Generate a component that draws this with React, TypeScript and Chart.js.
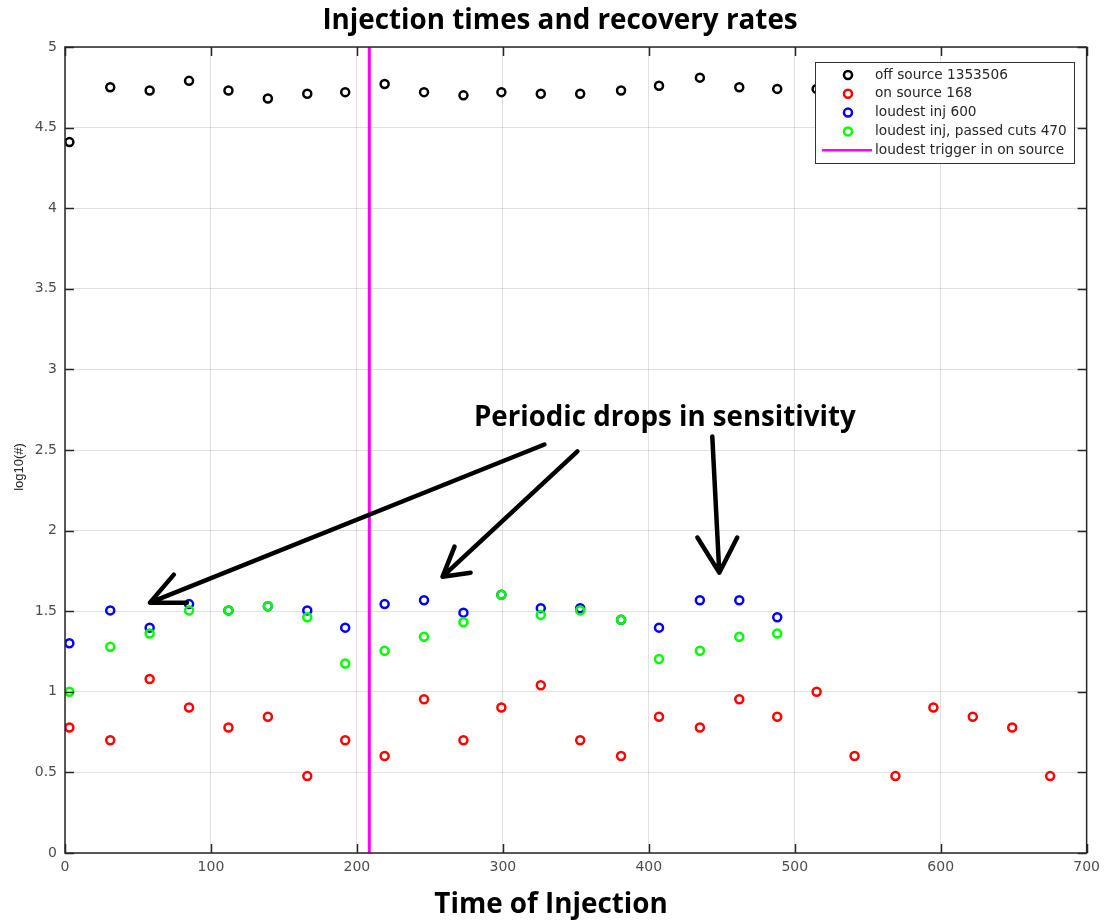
import React, { useEffect, useRef } from "react";
import { Chart, registerables } from "chart.js";

Chart.register(...registerables);

// ---------- data ----------
const injectionTimes = [3, 31, 58, 85, 112, 139, 166, 192, 219, 246, 273, 299, 326, 353, 381, 407, 435, 462, 488, 515, 541, 569, 595, 622, 649, 675];

const offSource = [4.41, 4.75, 4.73, 4.79, 4.73, 4.68, 4.71, 4.72, 4.77, 4.72, 4.70, 4.72, 4.71, 4.71, 4.73, 4.76, 4.81, 4.75, 4.74, 4.74];
const onSource = [0.778, 0.699, 1.079, 0.903, 0.778, 0.845, 0.477, 0.699, 0.602, 0.954, 0.699, 0.903, 1.041, 0.699, 0.602, 0.845, 0.778, 0.954, 0.845, 1.0, 0.602, 0.477, 0.903, 0.845, 0.778, 0.477];
const loudestInj = [1.301, 1.505, 1.398, 1.544, 1.505, 1.531, 1.505, 1.398, 1.544, 1.568, 1.491, 1.602, 1.519, 1.519, 1.447, 1.398, 1.568, 1.568, 1.462];
const loudestInjPassed = [1.0, 1.279, 1.362, 1.505, 1.505, 1.531, 1.462, 1.176, 1.255, 1.342, 1.431, 1.602, 1.477, 1.505, 1.447, 1.204, 1.255, 1.342, 1.362];

const loudestTriggerTime = 208.5;
const yRange = [0, 5];
const xRange = [0, 700];

const legendLabels = [
  "off source 1353506",
  "on source 168",
  "loudest inj 600",
  "loudest inj, passed cuts 470",
  "loudest trigger in on source",
];

const titleText = "Injection times and recovery rates";
const xTitleText = "Time of Injection";
const yTitleText = "log10(#)";
const annotationText = "Periodic drops in sensitivity";
const annotationPos = { x: 411, y: 2.65 };

// arrows in data units: shaft start, tip, two barb ends
const arrows = [
  { from: [328.5, 2.534], tip: [58.2, 1.553], barbs: [[74.6, 1.727], [83.5, 1.553]] },
  { from: [351.1, 2.491], tip: [258.7, 1.714], barbs: [[266.9, 1.901], [277.9, 1.739]] },
  { from: [443.5, 2.584], tip: [448.3, 1.739], barbs: [[433.3, 1.957], [460.6, 1.957]] },
];

const COLORS = ["#000000", "#ff0000", "#0000ff", "#00ff00", "#ff00ff"];

function pts(ys: number[]) {
  return ys.map((y, i) => ({ x: injectionTimes[i], y }));
}

const decorPlugin = {
  id: "decor",
  afterDraw(chart: any) {
    const ctx = chart.ctx as CanvasRenderingContext2D;
    const { left, right, top, bottom } = chart.chartArea;
    const xs = chart.scales.x;
    const ys = chart.scales.y;
    ctx.save();

    // box + inward ticks
    ctx.strokeStyle = "#262626";
    ctx.lineWidth = 1.5;
    ctx.strokeRect(left, top, right - left, bottom - top);
    const tl = 9;
    ctx.beginPath();
    xs.ticks.forEach((t: any) => {
      const px = Math.round(xs.getPixelForValue(t.value)) + 0.5;
      ctx.moveTo(px, bottom);
      ctx.lineTo(px, bottom - tl);
      ctx.moveTo(px, top);
      ctx.lineTo(px, top + tl);
    });
    ys.ticks.forEach((t: any) => {
      const py = Math.round(ys.getPixelForValue(t.value)) + 0.5;
      ctx.moveTo(left, py);
      ctx.lineTo(left + tl, py);
      ctx.moveTo(right, py);
      ctx.lineTo(right - tl, py);
    });
    ctx.stroke();

    // legend
    const lx = 815, ly = 62, lw = 259, lh = 101;
    ctx.fillStyle = "#ffffff";
    ctx.fillRect(lx, ly, lw, lh);
    ctx.strokeStyle = "#333333";
    ctx.lineWidth = 1;
    ctx.strokeRect(lx + 0.5, ly + 0.5, lw, lh);
    ctx.font = "13.7px 'DejaVu Sans'";
    ctx.textBaseline = "middle";
    ctx.textAlign = "left";
    legendLabels.forEach((lab, i) => {
      const cy = ly + 13 + i * 18.8;
      if (i < 4) {
        ctx.strokeStyle = COLORS[i];
        ctx.lineWidth = 2.5;
        ctx.beginPath();
        ctx.arc(848, cy, 4, 0, Math.PI * 2);
        ctx.stroke();
      } else {
        ctx.strokeStyle = COLORS[4];
        ctx.lineWidth = 2.5;
        ctx.beginPath();
        ctx.moveTo(822, cy);
        ctx.lineTo(872, cy);
        ctx.stroke();
      }
      ctx.fillStyle = "#262626";
      ctx.fillText(lab, 875, cy);
    });

    // arrows
    ctx.strokeStyle = "#000000";
    ctx.lineWidth = 4.5;
    ctx.lineCap = "round";
    ctx.lineJoin = "round";
    arrows.forEach((a) => {
      const P = (p: number[]) => [xs.getPixelForValue(p[0]), ys.getPixelForValue(p[1])];
      const s = P(a.from), t = P(a.tip), b1 = P(a.barbs[0]), b2 = P(a.barbs[1]);
      ctx.beginPath();
      ctx.moveTo(s[0], s[1]);
      ctx.lineTo(t[0], t[1]);
      ctx.moveTo(b1[0], b1[1]);
      ctx.lineTo(t[0], t[1]);
      ctx.lineTo(b2[0], b2[1]);
      ctx.stroke();
    });

    // annotation text
    ctx.fillStyle = "#000000";
    ctx.textAlign = "center";
    ctx.textBaseline = "alphabetic";
    ctx.font = "bold 27.7px 'Open Sans'";
    ctx.fillText(annotationText, xs.getPixelForValue(annotationPos.x), ys.getPixelForValue(annotationPos.y));

    // titles
    ctx.font = "bold 27.8px 'Open Sans'";
    ctx.fillText(titleText, 560, 29);
    ctx.fillText(xTitleText, 551, 913);

    ctx.save();
    ctx.translate(19, 467);
    ctx.rotate(-Math.PI / 2);
    ctx.font = "13px 'Liberation Sans'";
    ctx.fillStyle = "#262626";
    ctx.textBaseline = "middle";
    ctx.fillText(yTitleText, 0, 0);
    ctx.restore();

    ctx.restore();
  },
};

export default function App() {
  const ref = useRef<HTMLCanvasElement | null>(null);
  useEffect(() => {
    if (!ref.current) return;
    const scatterBase = {
      type: "scatter" as const,
      showLine: false,
      pointStyle: "circle",
      pointRadius: 4,
      pointHoverRadius: 4,
      pointBorderWidth: 2.5,
      pointBackgroundColor: "rgba(0,0,0,0)",
      backgroundColor: "rgba(0,0,0,0)",
    };
    const chart = new Chart(ref.current, {
      type: "scatter",
      data: {
        datasets: [
          { ...scatterBase, label: legendLabels[0], data: pts(offSource), borderColor: COLORS[0], pointBorderColor: COLORS[0], order: 4 },
          { ...scatterBase, label: legendLabels[1], data: pts(onSource), borderColor: COLORS[1], pointBorderColor: COLORS[1], order: 3 },
          { ...scatterBase, label: legendLabels[2], data: pts(loudestInj), borderColor: COLORS[2], pointBorderColor: COLORS[2], order: 2 },
          { ...scatterBase, label: legendLabels[3], data: pts(loudestInjPassed), borderColor: COLORS[3], pointBorderColor: COLORS[3], order: 1 },
          {
            type: "line" as const,
            label: legendLabels[4],
            data: [
              { x: loudestTriggerTime, y: yRange[0] },
              { x: loudestTriggerTime, y: yRange[1] },
            ],
            borderColor: COLORS[4],
            borderWidth: 3,
            pointRadius: 0,
            showLine: true,
            fill: false,
            order: 5,
          } as any,
        ],
      },
      options: {
        responsive: false,
        animation: false,
        devicePixelRatio: 1,
        layout: { padding: { top: 47, right: 18, left: 0, bottom: 0 } },
        plugins: {
          legend: { display: false },
          title: { display: false },
          tooltip: { enabled: false },
        },
        scales: {
          x: {
            type: "linear",
            min: xRange[0],
            max: xRange[1],
            ticks: {
              stepSize: 100,
              color: "#4d4d4d",
              font: { family: "'DejaVu Sans'", size: 14 },
              padding: 6,
              callback: (v: any) => String(v),
            },
            grid: { color: "rgba(0,0,0,0.12)", lineWidth: 1, drawTicks: false },
            border: { display: false },
            afterFit: (s: any) => { s.height = 69; },
          },
          y: {
            type: "linear",
            min: yRange[0],
            max: yRange[1],
            ticks: {
              stepSize: 0.5,
              color: "#4d4d4d",
              font: { family: "'DejaVu Sans'", size: 14 },
              padding: 8,
              callback: (v: any) => String(v),
            },
            grid: { color: "rgba(0,0,0,0.12)", lineWidth: 1, drawTicks: false },
            border: { display: false },
            afterFit: (s: any) => { s.width = 65; },
          },
        },
      } as any,
      plugins: [decorPlugin],
    });
    return () => chart.destroy();
  }, []);
  return (
    <div style={{ position: "fixed", left: 0, top: 0, width: 1106, height: 922, background: "#fff" }}>
      <canvas ref={ref} width={1106} height={922} style={{ width: 1106, height: 922 }} />
    </div>
  );
}
